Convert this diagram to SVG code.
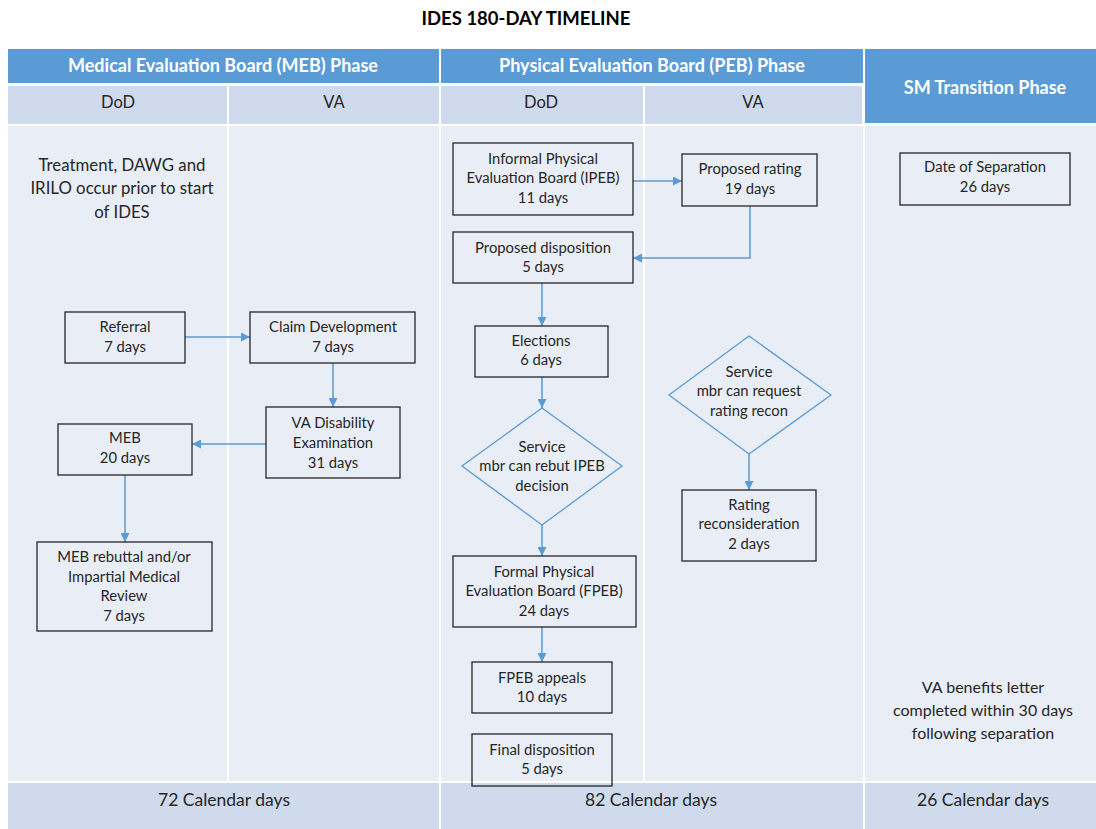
<svg xmlns="http://www.w3.org/2000/svg" width="1096" height="829" viewBox="0 0 1096 829">
<style>
text{font-family:Lato,"Open Sans","Liberation Sans",sans-serif;fill:#262626;text-anchor:middle}
.t{font-size:14.8px}
.h{font-size:18px;font-weight:bold;fill:#fff}
.s{font-size:16.5px}
.f{font-size:17.5px}
.big{font-size:16.8px}
.v{font-size:16px}
.box{fill:none;stroke:#262626;stroke-width:1.3}
.dia{fill:none;stroke:#5b9bd5;stroke-width:1.3}
.c{fill:none;stroke:#5b9bd5;stroke-width:1.5;marker-end:url(#ah)}
</style>
<defs>
<marker id="ah" viewBox="0 0 10 10" refX="10" refY="5" markerWidth="9" markerHeight="9" markerUnits="userSpaceOnUse" orient="auto">
<path d="M0,0L10,5L0,10z" fill="#5b9bd5"/>
</marker>
</defs>
<rect width="1096" height="829" fill="#fff"/>
<text x="526" y="25" style="font-size:18.5px;font-weight:bold;fill:#000">IDES 180-DAY TIMELINE</text>
<g id="table">
<rect x="8" y="49" width="431" height="34" fill="#5b9bd5"/>
<rect x="441" y="49" width="422" height="34" fill="#5b9bd5"/>
<rect x="865" y="49" width="231" height="74" fill="#5b9bd5"/>
<rect x="8" y="86" width="219" height="38" fill="#cfdbec"/>
<rect x="229" y="86" width="210" height="38" fill="#cfdbec"/>
<rect x="441" y="86" width="202" height="38" fill="#cfdbec"/>
<rect x="645" y="86" width="217" height="38" fill="#cfdbec"/>
<rect x="8" y="126" width="219" height="655" fill="#e9eef6"/>
<rect x="229" y="126" width="210" height="655" fill="#e9eef6"/>
<rect x="441" y="126" width="202" height="655" fill="#e9eef6"/>
<rect x="645" y="126" width="218" height="655" fill="#e9eef6"/>
<rect x="865" y="126" width="231" height="655" fill="#e9eef6"/>
<rect x="8" y="783" width="431" height="46" fill="#cfdbec"/>
<rect x="441" y="783" width="422" height="46" fill="#cfdbec"/>
<rect x="865" y="783" width="231" height="46" fill="#cfdbec"/>
<text class="h" x="223" y="72">Medical Evaluation Board (MEB) Phase</text>
<text class="h" x="652" y="72">Physical Evaluation Board (PEB) Phase</text>
<text class="h" x="985" y="94">SM Transition Phase</text>
<text class="s" x="118" y="108">DoD</text>
<text class="s" x="334" y="108">VA</text>
<text class="s" x="541" y="108">DoD</text>
<text class="s" x="753" y="108">VA</text>
<text class="f" x="224" y="806">72 Calendar days</text>
<text class="f" x="651" y="806">82 Calendar days</text>
<text class="f" x="983" y="806">26 Calendar days</text>
<text class="big" x="122" y="171">Treatment, DAWG and</text>
<text class="big" x="122" y="194">IRILO occur prior to start</text>
<text class="big" x="122" y="218">of IDES</text>
<text class="v" x="983" y="693">VA benefits letter</text>
<text class="v" x="983" y="716">completed within 30 days</text>
<text class="v" x="983" y="739">following separation</text>
</g>
<g id="connectors">
<path class="c" d="M185,337H250"/>
<path class="c" d="M333,363V407"/>
<path class="c" d="M266,444H192"/>
<path class="c" d="M125,475V542"/>
<path class="c" d="M633,181H682"/>
<path class="c" d="M750,206V258H633"/>
<path class="c" d="M542,283V326"/>
<path class="c" d="M542,377V408"/>
<path class="c" d="M542,525V556"/>
<path class="c" d="M542,627V662"/>
<path class="c" d="M749,454V490"/>
</g>
<g id="referral"><rect class="box" x="65" y="312" width="120" height="51"/><text class="t" x="125" y="332">Referral</text><text class="t" x="125" y="352">7 days</text></g>
<g id="claim"><rect class="box" x="250" y="312" width="165" height="51"/><text class="t" x="333" y="332">Claim Development</text><text class="t" x="333" y="352">7 days</text></g>
<g id="vaexam"><rect class="box" x="266" y="407" width="134" height="71"/><text class="t" x="333" y="428">VA Disability</text><text class="t" x="333" y="448">Examination</text><text class="t" x="333" y="468">31 days</text></g>
<g id="meb"><rect class="box" x="58" y="424" width="134" height="51"/><text class="t" x="125" y="443">MEB</text><text class="t" x="125" y="463">20 days</text></g>
<g id="rebuttal"><rect class="box" x="37" y="542" width="175" height="89"/><text class="t" x="124" y="562">MEB rebuttal and/or</text><text class="t" x="124" y="582">Impartial Medical</text><text class="t" x="124" y="601">Review</text><text class="t" x="124" y="621">7 days</text></g>
<g id="ipeb"><rect class="box" x="453" y="143" width="180" height="72"/><text class="t" x="543" y="164">Informal Physical</text><text class="t" x="543" y="183">Evaluation Board (IPEB)</text><text class="t" x="543" y="203">11 days</text></g>
<g id="proprating"><rect class="box" x="682" y="154" width="135" height="52"/><text class="t" x="750" y="174">Proposed rating</text><text class="t" x="750" y="194">19 days</text></g>
<g id="propdisp"><rect class="box" x="453" y="232" width="180" height="51"/><text class="t" x="543" y="253">Proposed disposition</text><text class="t" x="543" y="272">5 days</text></g>
<g id="elections"><rect class="box" x="475" y="326" width="133" height="51"/><text class="t" x="541" y="346">Elections</text><text class="t" x="541" y="365">6 days</text></g>
<g id="rebut"><path class="dia" d="M542,408L622,466L542,525L462,466Z"/><text class="t" x="542" y="452">Service</text><text class="t" x="542" y="471">mbr can rebut IPEB</text><text class="t" x="542" y="491">decision</text></g>
<g id="fpeb"><rect class="box" x="453" y="556" width="183" height="71"/><text class="t" x="544" y="577">Formal Physical</text><text class="t" x="544" y="596">Evaluation Board (FPEB)</text><text class="t" x="544" y="616">24 days</text></g>
<g id="appeals"><rect class="box" x="472" y="662" width="140" height="51"/><text class="t" x="542" y="683">FPEB appeals</text><text class="t" x="542" y="702">10 days</text></g>
<g id="finaldisp"><rect class="box" x="472" y="734" width="140" height="52"/><text class="t" x="542" y="755">Final disposition</text><text class="t" x="542" y="774">5 days</text></g>
<g id="recon"><path class="dia" d="M749,336L831,395L749,454L669,395Z"/><text class="t" x="749" y="377">Service</text><text class="t" x="749" y="396">mbr can request</text><text class="t" x="749" y="416">rating recon</text></g>
<g id="ratingrecon"><rect class="box" x="682" y="490" width="134" height="71"/><text class="t" x="749" y="510">Rating</text><text class="t" x="749" y="529">reconsideration</text><text class="t" x="749" y="549">2 days</text></g>
<g id="separation"><rect class="box" x="900" y="153" width="170" height="52"/><text class="t" x="985" y="172">Date of Separation</text><text class="t" x="985" y="192">26 days</text></g>
</svg>
